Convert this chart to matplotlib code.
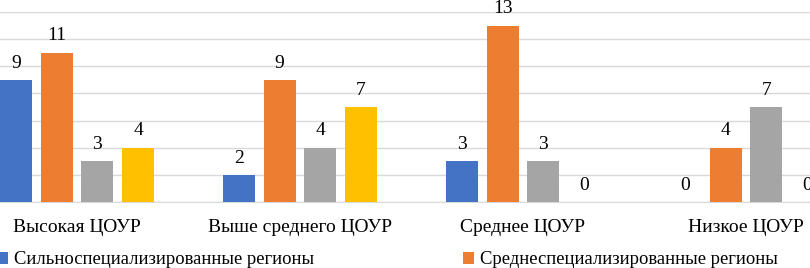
import numpy as np
import matplotlib
matplotlib.use("Agg")
from matplotlib import pyplot as plt

plt.rcParams['font.family'] = ['Liberation Serif', 'DejaVu Serif']

categories = ["Высокая ЦОУР", "Выше среднего ЦОУР", "Среднее ЦОУР", "Низкое ЦОУР"]
series_names = ["Сильноспециализированные регионы",
                "Среднеспециализированные регионы",
                "Слабоспециализированные регионы",
                "Неспециализированные регионы"]
strong = [9, 2, 3, 0]
medium = [11, 9, 13, 4]
weak = [3, 4, 3, 7]
none_spec = [4, 7, 0, 0]
colors = ["#4472C4", "#ED7D31", "#A5A5A5", "#FFC000"]

values = [strong, medium, weak, none_spec]

fig = plt.figure(figsize=(8.1, 2.68), dpi=100)
ax = fig.add_axes([0, 66 / 268, 1, 190 / 268])

x = np.arange(len(categories))
step = 0.1825
width = 0.143
bars = []
for i, (vals, c, name) in enumerate(zip(values, colors, series_names)):
    b = ax.bar(x + (i - 1.5) * step, vals, width, color=c, label=name, zorder=3)
    ax.bar_label(b, padding=6, fontsize=14, clip_on=False)
    bars.append(b)

ax.set_xlim(-77 / 223, (810 - 77) / 223)
ax.set_ylim(0, 14)
ax.set_yticks(np.arange(0, 15, 2))
ax.yaxis.grid(True, color="#D9D9D9", linewidth=1)
ax.set_axisbelow(True)
ax.tick_params(axis="y", left=False, labelleft=False)
ax.tick_params(axis="x", length=0, pad=12, labelsize=14)
ax.set_xticks(x)
ax.set_xticklabels(categories)
for s in ["top", "right", "left"]:
    ax.spines[s].set_visible(False)
ax.spines["bottom"].set_color("#D9D9D9")

fig.legend(handles=bars[:2], loc="center left", bbox_to_anchor=(-0.003, 8 / 268),
           ncol=2, frameon=False, fontsize=13.4, handlelength=0.55, handleheight=0.55,
           handletextpad=0.35, columnspacing=8.0, borderpad=0, borderaxespad=0)

fig.savefig("out.png", dpi=100)
